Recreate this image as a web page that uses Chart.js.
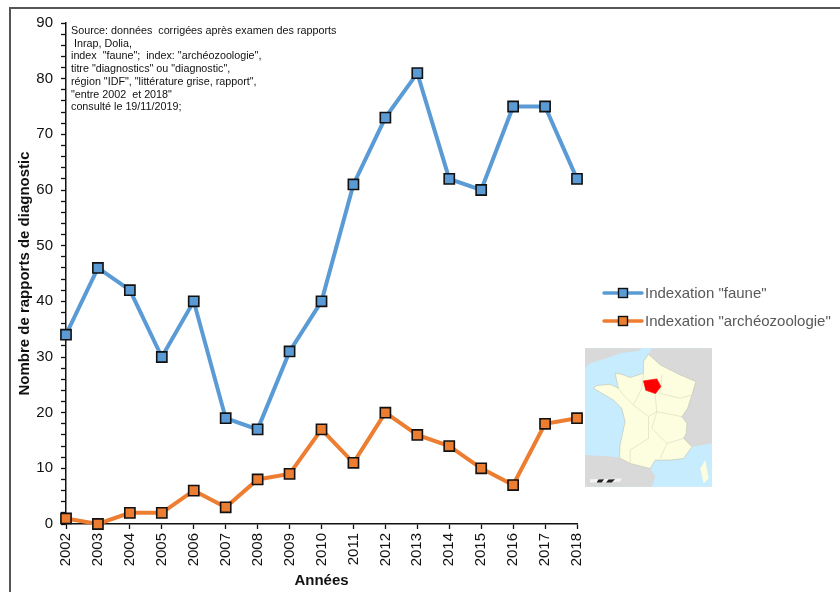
<!DOCTYPE html>
<html><head><meta charset="utf-8">
<script src="https://cdn.jsdelivr.net/npm/chart.js@4"></script>
<style>
html,body{margin:0;padding:0;background:#fff;width:840px;height:592px;overflow:hidden}
#wrap{position:absolute;left:0;top:0;width:840px;height:592px}
#frame{position:absolute;left:9px;top:7px;width:840px;height:600px;border:2px solid #555;box-sizing:border-box}
#note{position:absolute;left:71px;top:24px;font:10.75px/12.7px "Liberation Sans",Arial,sans-serif;color:#111;white-space:pre}
#map{position:absolute;left:585px;top:348px}
</style></head><body>
<div id="wrap">
<div id="frame"></div>
<canvas id="c" width="840" height="592" style="position:absolute;left:0;top:0"></canvas>
<div id="note">Source: données  corrigées après examen des rapports
 Inrap, Dolia,
index  "faune";  index: "archéozoologie",
titre "diagnostics" ou "diagnostic",
région "IDF", "littérature grise, rapport",
"entre 2002  et 2018"
consulté le 19/11/2019;</div>
<svg id="map" width="127" height="139" viewBox="15 10 380 415">
<defs><filter id="b"><feGaussianBlur stdDeviation="1.2"/></filter></defs>
<g filter="url(#b)">
<rect x="15" y="10" width="380" height="415" fill="#c6ecfe"/>
<path d="M15 10 H185 L175 18 L120 25 L80 40 L30 55 L15 70Z" fill="#d9d9d9"/>
<path d="M215 10 H395 V295 L335 305 L310 280 L318 265 L320 235 L305 215 L322 190 L345 110 L300 90 L240 60 L205 28Z" fill="#d9d9d9"/>
<path d="M15 330 L100 335 L118 338 L150 355 L210 370 L225 395 L215 425 H15Z" fill="#d9d9d9"/>
<path d="M205 28 L240 60 L300 90 L347 110 L335 150 L322 190 L305 215 L320 235 L318 265 L310 280 L335 305 L310 340 L270 345 L225 345 L210 370 L150 355 L118 338 L120 300 L135 230 L125 190 L100 165 L40 130 L50 122 L90 118 L115 130 L105 85 L125 88 L150 98 L190 85 L190 50Z" fill="#fdfde0" stroke="#b9b9a0" stroke-width="1.5"/>
<path d="M375 345 L385 400 L370 415 L360 370Z" fill="#fdfde0"/>
<path d="M190 85 L185 130 L160 180 L130 150 L115 130 M160 180 L205 215 L205 280 L150 315 L150 355 M205 215 L230 200 L225 150 M245 90 L240 145 L300 160 L335 150 M230 200 L305 215 M230 200 L215 250 L260 295 L310 280 M260 295 L240 340" fill="none" stroke="#dcdcc0" stroke-width="2"/>
<path d="M190 108 L230 102 L242 125 L226 146 L197 136Z" fill="#f00" stroke="#f00" stroke-width="2"/>
<path d="M30 402 L125 400 L120 410 L30 412Z" fill="#f4f4f4"/>
<path d="M55 403 L72 402 L65 412 L50 412Z M85 403 L105 402 L95 412 L78 412Z" fill="#222"/>
</g>
</svg>
</div>
<script>
const years=["2002","2003","2004","2005","2006","2007","2008","2009","2010","2011","2012","2013","2014","2015","2016","2017","2018"];
const faune=[34,46,42,30,40,19,17,31,40,61,73,81,62,60,75,75,62];
const archeo=[1,0,2,2,6,3,8,9,17,11,20,16,14,10,7,18,19];
const blue="#5b9bd5",orange="#ed7d31";
const ds=(label,data,color)=>({label,data,borderColor:color,backgroundColor:color,borderWidth:4,tension:0,clip:false,
  pointStyle:"rect",pointRadius:7.2,pointHoverRadius:7.2,pointBorderColor:"#111",pointBorderWidth:1.6,pointBackgroundColor:color});
const sansLeg='"Liberation Sans",Arial,sans-serif';
const legendPlugin={id:"sideLegend",afterDraw(ch){
  const c=ch.ctx;c.save();
  ch.data.datasets.forEach((d,i)=>{
    const y=293+i*28,x0=604,x1=642;
    c.strokeStyle=d.borderColor;c.lineWidth=3.5;c.lineCap="round";c.beginPath();c.moveTo(x0,y);c.lineTo(x1,y);c.stroke();
    c.fillStyle=d.borderColor;c.strokeStyle="#111";c.lineWidth=1.4;c.fillRect(618.5,y-4.5,9,9);c.strokeRect(618.5,y-4.5,9,9);
    c.fillStyle="#595959";c.font="15px "+sansLeg;c.textAlign="left";c.textBaseline="middle";
    c.fillText(d.label,645,y+1);
  });c.restore();}};
new Chart(document.getElementById("c"),{type:"line",
 data:{labels:years,datasets:[ds('Indexation "faune"',faune,blue),ds('Indexation "archéozoologie"',archeo,orange)]},
 options:{responsive:false,animation:false,
  layout:{padding:{left:0,top:23,right:263,bottom:0}},
  plugins:{legend:{display:false},tooltip:{enabled:false}},
  scales:{
   x:{offset:false,afterFit(a){a.height=68;},grid:{display:true,drawOnChartArea:false,drawTicks:true,tickLength:5,tickColor:"#111",tickWidth:1.3},border:{color:"#111",width:1.5},
      ticks:{minRotation:90,maxRotation:90,padding:4,color:"#111",font:{family:sansLeg,size:15},autoSkip:false},
      title:{display:true,text:"Années",color:"#111",font:{family:sansLeg,size:15,weight:"bold"},padding:{top:0,bottom:2}}},
   y:{min:0,max:90,afterFit(a){a.width=66;},grid:{display:true,drawOnChartArea:false,drawTicks:true,tickLength:5,tickColor:"#111",tickWidth:1.3},border:{color:"#111",width:1.5},
      afterBuildTicks(a){a.ticks=[];for(let v=0;v<=90;v+=2)a.ticks.push({value:v});},
      ticks:{autoSkip:false,padding:8,color:"#111",font:{family:sansLeg,size:15},callback:v=>v%10===0?v:""},
      title:{display:true,text:"Nombre de rapports de diagnostic",color:"#111",font:{family:sansLeg,size:15,weight:"bold"},padding:{top:16,bottom:0}}}
  }},plugins:[legendPlugin]});
</script></body></html>
